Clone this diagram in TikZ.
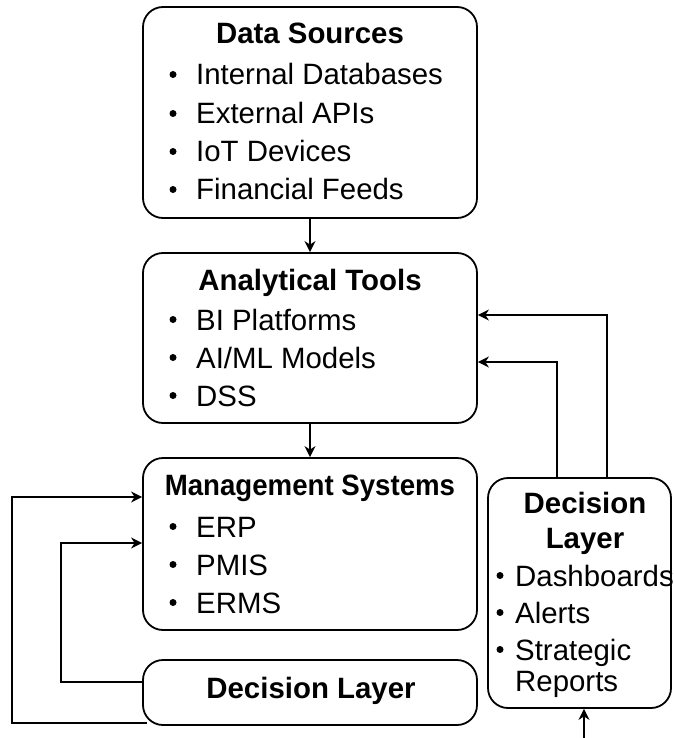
\documentclass[tikz,border=0pt]{standalone}
\usepackage{fontspec}
\setmainfont{Liberation Sans}
\usetikzlibrary{arrows.meta}
\begin{document}
\begin{tikzpicture}[x=1pt,y=-1pt,
  box/.style={draw, line width=1.8pt, rounded corners=20pt, inner sep=0pt, fill=white},
  arr/.style={line width=1.8pt, -{Stealth[length=11pt,width=11pt,inset=3.5pt]}},
  ttl/.style={inner sep=0pt, anchor=base, font=\fontsize{29.4}{36}\selectfont\bfseries},
  item/.style={inner sep=0pt, anchor=base west, font=\fontsize{29.4}{36}\selectfont},
  dot/.style={circle, fill, inner sep=0pt, minimum size=7pt}]
\useasboundingbox (0,0) rectangle (673,738);

% boxes
\node[box, minimum width=334pt, minimum height=211pt] (ds) at (310,112.5) {};
\node[box, minimum width=334pt, minimum height=170pt] (at) at (310,338) {};
\node[box, minimum width=334pt, minimum height=172pt] (ms) at (310,544) {};
\node[box, minimum width=334pt, minimum height=65pt]  (dl) at (310,692.5) {};
\node[box, minimum width=183pt, minimum height=230pt] (dr) at (579.5,593) {};

% Data Sources
\node[ttl] (dsT) at (310,44) {Data Sources};
\node[dot] (dsb1) at (173,74.5) {};  \node[item] (ds1) at (196,85) {Internal Databases};
\node[dot] (dsb2) at (173,113.5) {}; \node[item] (ds2) at (196,124) {External APIs};
\node[dot] (dsb3) at (173,151.5) {}; \node[item] (ds3) at (196,162) {IoT Devices};
\node[dot] (dsb4) at (173,189.5) {}; \node[item] (ds4) at (196,200) {Financial Feeds};

% Analytical Tools
\node[ttl] (atT) at (310,290) {Analytical Tools};
\node[dot] (atb1) at (173,319.5) {}; \node[item] (at1) at (196,330) {BI Platforms};
\node[dot] (atb2) at (173,357.5) {}; \node[item] (at2) at (196,368) {AI/ML Models};
\node[dot] (atb3) at (173,395.5) {}; \node[item] (at3) at (196,406) {DSS};

% Management Systems
\node[ttl] (msT) at (310,495) {\scalebox{0.94}[1]{Management Systems}};
\node[dot] (msb1) at (173,526.5) {}; \node[item] (ms1) at (196,537) {ERP};
\node[dot] (msb2) at (173,564.5) {}; \node[item] (ms2) at (196,575) {PMIS};
\node[dot] (msb3) at (173,602.5) {}; \node[item] (ms3) at (196,613) {ERMS};

% Decision Layer (bottom)
\node[ttl] (dlT) at (311,698) {Decision Layer};

% Decision Layer (right)
\node[ttl] (drT1) at (585,513) {Decision};
\node[ttl] (drT2) at (585,548) {Layer};
\node[dot] (drb1) at (500,575.5) {}; \node[item] (dr1) at (515,586) {Dashboards};
\node[dot] (drb2) at (500,612.5) {}; \node[item] (dr2) at (515,623) {Alerts};
\node[dot] (drb3) at (500,649.5) {}; \node[item] (dr3) at (515,660) {Strategic};
\node[item] (dr4) at (515,691) {Reports};

% main flow
\draw[arr] (ds.south) -- (at.north);
\draw[arr] (at.south) -- (ms.north);

% feedback loops on the left
\draw[arr] ([xshift=5pt,yshift=3pt]dl.south west) -- ++(-135,0) |- ([yshift=47pt]ms.west);
\draw[arr] ([yshift=10.5pt]dl.west) -- ++(-81,0) |- ([yshift=1pt]ms.west);

% feedback from the right-hand decision layer
\draw[arr] ([xshift=-22.5pt]dr.north) |- ([yshift=-24pt]at.east);
\draw[arr] ([xshift=27.5pt]dr.north) |- ([yshift=23pt]at.east);

% incoming feed
\coordinate (feed) at (584,738);
\draw[arr] (feed) -- (feed |- dr.south);
\end{tikzpicture}
\end{document}
